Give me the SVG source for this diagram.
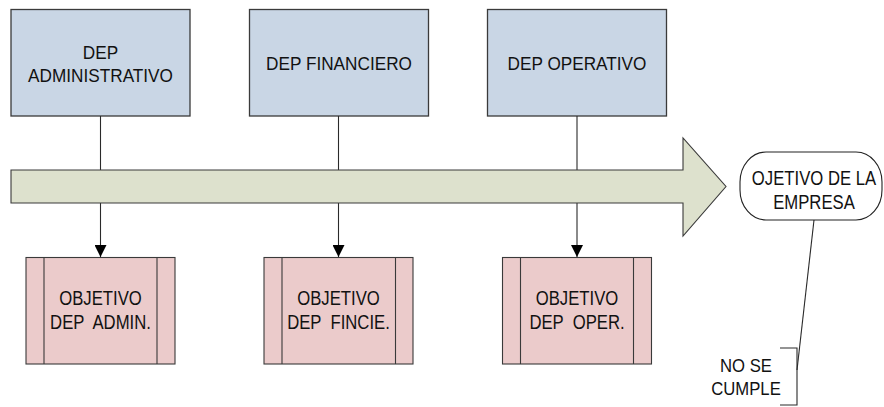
<svg xmlns="http://www.w3.org/2000/svg" width="884" height="407" viewBox="0 0 884 407">
  <style>
    .dep { fill: #C9D6E5; stroke: #3a3a3a; stroke-width: 1.3; }
    .obj { fill: #EBCBCB; stroke: #3a3a3a; stroke-width: 1.1; }
    .bar { fill: none; stroke: #3a3a3a; stroke-width: 1.1; }
    .flow { fill: #DDE1CD; stroke: #3a3a3a; stroke-width: 1.1; }
    .goal { fill: #ffffff; stroke: #222; stroke-width: 1.1; }
    .link { stroke: #2a2a2a; stroke-width: 1.1; fill: none; }
    text { font-family: "Liberation Sans", Arial, sans-serif; font-size: 16.7px; fill: #111; text-anchor: middle; }
    .big { font-size: 17.2px; }
  </style>
  <defs>
    <marker id="tri" viewBox="0 0 12 12" refX="12" refY="6" markerWidth="12" markerHeight="12" markerUnits="userSpaceOnUse" orient="auto">
      <path d="M0,0 L12,6 L0,12 Z" fill="#000"/>
    </marker>
  </defs>

  <!-- department boxes -->
  <g id="dep-admin">
    <rect class="dep" x="11" y="9.5" width="179" height="106.5"/>
    <text class="big" transform="translate(100.5,58.5) scale(1,1.05)">DEP</text>
    <text class="big" transform="translate(100.5,81.5) scale(1,1.05)">ADMINISTRATIVO</text>
  </g>
  <g id="dep-fin">
    <rect class="dep" x="249.5" y="9.5" width="179" height="106.5"/>
    <text class="big" transform="translate(339,69.5) scale(1,1.05)">DEP FINANCIERO</text>
  </g>
  <g id="dep-oper">
    <rect class="dep" x="487.5" y="9.5" width="179" height="106.5"/>
    <text class="big" transform="translate(577,69.5) scale(1,1.05)">DEP OPERATIVO</text>
  </g>

  <!-- connectors -->
  <g id="connectors">
    <line class="link" x1="100.5" y1="116" x2="100.5" y2="170"/>
    <line class="link" x1="338.5" y1="116" x2="338.5" y2="170"/>
    <line class="link" x1="577" y1="116" x2="577" y2="170"/>
    <line class="link" x1="100.5" y1="203" x2="100.5" y2="257" marker-end="url(#tri)"/>
    <line class="link" x1="338.5" y1="203" x2="338.5" y2="257" marker-end="url(#tri)"/>
    <line class="link" x1="577" y1="203" x2="577" y2="257" marker-end="url(#tri)"/>
    <line class="link" x1="814" y1="220" x2="797" y2="370"/>
  </g>

  <!-- flow arrow -->
  <g id="flow-arrow">
    <path class="flow" d="M11,170 L683,170 L683,138 L726,186.5 L683,236 L683,203 L11,203 Z"/>
  </g>

  <!-- objective boxes -->
  <g id="obj-admin">
    <rect class="obj" x="26" y="257.5" width="149" height="106.5"/>
    <line class="bar" x1="44" y1="257.5" x2="44" y2="364"/>
    <line class="bar" x1="157" y1="257.5" x2="157" y2="364"/>
    <text transform="translate(100.5,305) scale(1,1.2)">OBJETIVO</text>
    <text transform="translate(100.5,329) scale(1,1.2)" xml:space="preserve">DEP  ADMIN.</text>
  </g>
  <g id="obj-fin">
    <rect class="obj" x="264" y="257.5" width="149" height="106.5"/>
    <line class="bar" x1="282" y1="257.5" x2="282" y2="364"/>
    <line class="bar" x1="395.5" y1="257.5" x2="395.5" y2="364"/>
    <text transform="translate(338.5,305) scale(1,1.2)">OBJETIVO</text>
    <text transform="translate(338.5,329) scale(1,1.2)" xml:space="preserve">DEP  FINCIE.</text>
  </g>
  <g id="obj-oper">
    <rect class="obj" x="502.5" y="257.5" width="149" height="106.5"/>
    <line class="bar" x1="520.5" y1="257.5" x2="520.5" y2="364"/>
    <line class="bar" x1="633.5" y1="257.5" x2="633.5" y2="364"/>
    <text transform="translate(577,305) scale(1,1.2)">OBJETIVO</text>
    <text transform="translate(577,329) scale(1,1.2)" xml:space="preserve">DEP  OPER.</text>
  </g>

  <!-- company goal -->
  <g id="goal">
    <rect class="goal" x="740" y="152" width="142" height="68" rx="26" ry="30"/>
    <text transform="translate(814,185) scale(1,1.2)">OJETIVO DE LA</text>
    <text transform="translate(814,208.5) scale(1,1.2)">EMPRESA</text>
  </g>

  <!-- annotation -->
  <g id="note">
    <path class="link" d="M780,348 L797,348 L797,405 L780,405"/>
    <text transform="translate(746,371.5) scale(1,1.1)">NO SE</text>
    <text transform="translate(746,395) scale(1,1.1)">CUMPLE</text>
  </g>
</svg>
